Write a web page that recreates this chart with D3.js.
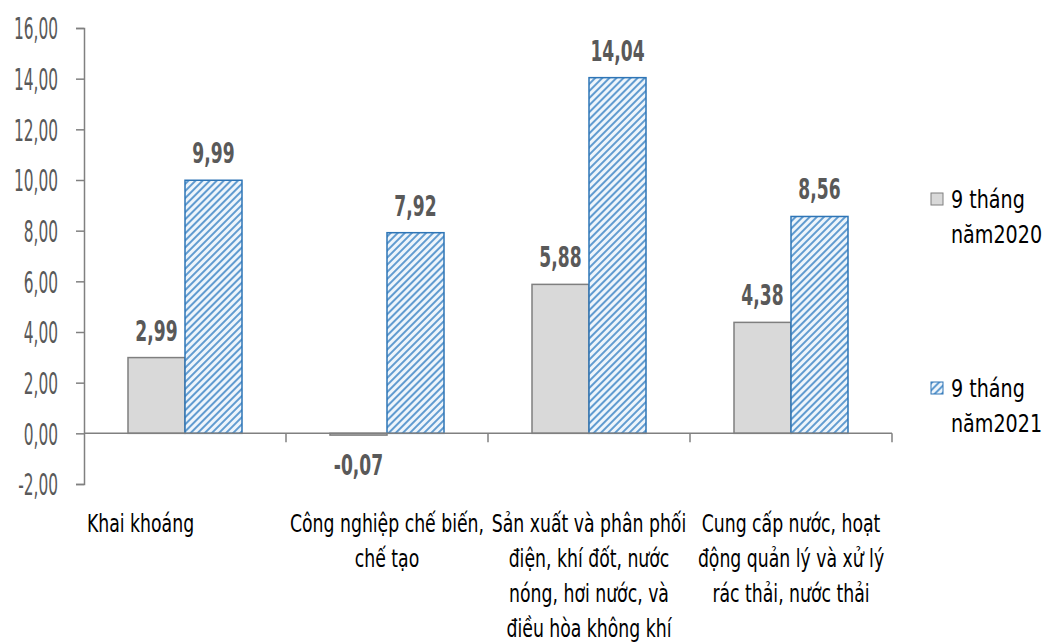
<!DOCTYPE html>
<html>
<head>
<meta charset="utf-8">
<script src="https://cdn.jsdelivr.net/npm/d3@7"></script>
<style>
  body { margin: 0; background: #fff; }
  svg text { font-family: "DejaVu Sans Condensed", "DejaVu Sans", sans-serif; }
</style>
</head>
<body>
<div id="chart"></div>
<script>
// chart data
var categoryLines = [
  ["Khai khoáng"],
  ["Công nghiệp chế biến,", "chế tạo"],
  ["Sản xuất và phân phối", "điện, khí đốt, nước", "nóng, hơi nước, và", "điều hòa không khí"],
  ["Cung cấp nước, hoạt", "động quản lý và xử lý", "rác thải, nước thải"]
];
var series2020 = [2.99, -0.07, 5.88, 4.38];
var series2021 = [9.99, 7.92, 14.04, 8.56];
var legendLines = [["9 tháng", "năm2020"], ["9 tháng", "năm2021"]];
var yTicks = [-2, 0, 2, 4, 6, 8, 10, 12, 14, 16];

var width = 1055, height = 644;
var fmt = function(v) { return d3.format(".2f")(v).replace(".", ",").replace("−", "-"); };

// squash text horizontally, the source uses a very condensed face
function squeeze(sel, k) {
  sel.each(function() {
    var w = this.getComputedTextLength();
    d3.select(this).attr("textLength", w * k).attr("lengthAdjust", "spacingAndGlyphs");
  });
}

var svg = d3.select("#chart").append("svg")
    .attr("width", width)
    .attr("height", height);

var defs = svg.append("defs");
var pat = defs.append("pattern")
    .attr("id", "hatch")
    .attr("patternUnits", "userSpaceOnUse")
    .attr("width", 5).attr("height", 5)
    .attr("patternTransform", "rotate(45)");
pat.append("rect").attr("width", 5).attr("height", 5).attr("fill", "#eef5fb");
pat.append("line").attr("x1", 1).attr("y1", 0).attr("x2", 1).attr("y2", 5)
    .attr("stroke", "#3d85c6").attr("stroke-width", 1.6);

var x = d3.scaleBand()
    .domain(d3.range(categoryLines.length))
    .range([84, 892]);

var y = d3.scaleLinear()
    .domain([-2, 16])
    .range([484, 28]);

var barW = 57, barOff = 44;

// y axis
var yAxis = svg.append("g")
    .attr("transform", "translate(84,0)")
    .call(d3.axisLeft(y).tickValues(yTicks).tickFormat(fmt).tickSize(8).tickPadding(18));
yAxis.select(".domain").attr("stroke", "#808080").attr("stroke-width", 1.5);
yAxis.selectAll(".tick line").attr("stroke", "#808080").attr("stroke-width", 1.5);
yAxis.selectAll(".tick text")
    .attr("fill", "#595959")
    .attr("font-size", 30)
    .attr("dy", "0.36em");
squeeze(yAxis.selectAll(".tick text"), 0.57);

// bars
var groups = svg.append("g").selectAll("g")
    .data(categoryLines.map(function(d, i) { return i; }))
    .enter().append("g");

groups.append("rect")
    .attr("x", function(i) { return x(i) + barOff; })
    .attr("y", function(i) { return y(Math.max(0, series2020[i])); })
    .attr("width", barW)
    .attr("height", function(i) { return Math.max(1.5, Math.abs(y(series2020[i]) - y(0))); })
    .attr("fill", "#d9d9d9")
    .attr("stroke", "#7f7f7f")
    .attr("stroke-width", 1.5);

groups.append("rect")
    .attr("x", function(i) { return x(i) + barOff + barW; })
    .attr("y", function(i) { return y(Math.max(0, series2021[i])); })
    .attr("width", barW)
    .attr("height", function(i) { return Math.abs(y(series2021[i]) - y(0)); })
    .attr("fill", "url(#hatch)")
    .attr("stroke", "#2e75b6")
    .attr("stroke-width", 1.5);

// value labels
function valueLabels(vals, k) {
  var t = svg.append("g").selectAll("text")
      .data(vals)
      .enter().append("text")
      .attr("x", function(d, i) { return x(i) + barOff + barW * k + barW / 2; })
      .attr("y", function(d) { return d >= 0 ? y(d) - 17 : y(d) + 40; })
      .attr("text-anchor", "middle")
      .attr("font-size", 28)
      .attr("font-weight", "bold")
      .attr("fill", "#595959")
      .text(fmt);
  squeeze(t, 0.68);
}
valueLabels(series2020, 0);
valueLabels(series2021, 1);

// x axis at zero
var xAxis = svg.append("g")
    .attr("transform", "translate(0," + y(0) + ")");
xAxis.append("line")
    .attr("x1", 84).attr("x2", 892)
    .attr("stroke", "#808080").attr("stroke-width", 1.5);
xAxis.selectAll(".tk")
    .data(d3.range(1, categoryLines.length + 1))
    .enter().append("line")
    .attr("x1", function(i) { return 84 + x.bandwidth() * i; })
    .attr("x2", function(i) { return 84 + x.bandwidth() * i; })
    .attr("y1", 0).attr("y2", 9)
    .attr("stroke", "#808080").attr("stroke-width", 1.5);

// category labels, drawn in a horizontally scaled group
var catScale = 0.8;
categoryLines.forEach(function(lines, i) {
  var single = lines.length === 1;
  var cx = single ? x(i) + 3 : x(i) + x.bandwidth() / 2;
  svg.append("g")
      .attr("transform", "translate(" + cx + ",0) scale(" + catScale + ",1)")
    .selectAll("text")
      .data(lines)
      .enter().append("text")
      .attr("x", 0)
      .attr("y", function(d, j) { return 532 + j * 35; })
      .attr("font-size", 24)
      .attr("fill", "#000")
      .attr("text-anchor", single ? "start" : "middle")
      .text(function(d) { return d; });
});

// legend
var legendY = [193, 382];
legendLines.forEach(function(lines, i) {
  var g = svg.append("g").attr("transform", "translate(931," + legendY[i] + ")");
  g.append("rect")
      .attr("width", 12).attr("height", 12)
      .attr("fill", i === 0 ? "#d9d9d9" : "url(#hatch)")
      .attr("stroke", i === 0 ? "#7f7f7f" : "#2e75b6")
      .attr("stroke-width", 1);
  g.append("g")
      .attr("transform", "translate(20,0) scale(0.85,1)")
    .selectAll("text")
      .data(lines)
      .enter().append("text")
      .attr("x", 0)
      .attr("y", function(d, j) { return 15 + j * 35; })
      .attr("font-size", 25)
      .attr("fill", "#000")
      .text(function(d) { return d; });
});
</script>
</body>
</html>
